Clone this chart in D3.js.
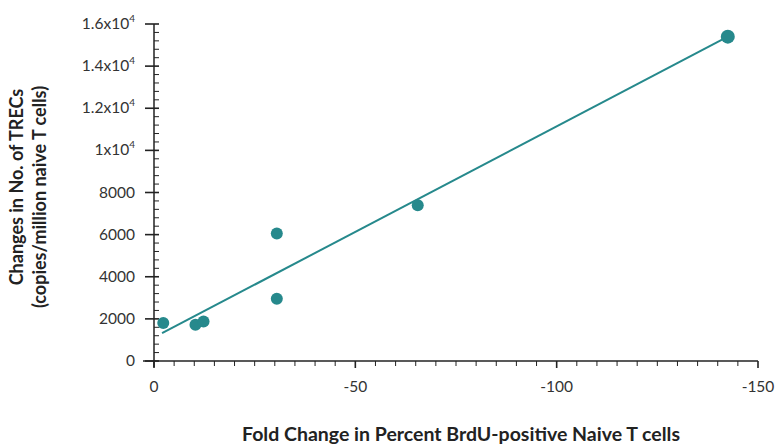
<!DOCTYPE html>
<html><head><meta charset="utf-8">
<script src="https://cdn.jsdelivr.net/npm/d3@7"></script>
<style>body{margin:0;background:#fff}svg{font-family:Lato,Arial,sans-serif}</style>
</head><body><svg width="776" height="445"></svg>
<script>
const xs = [-2.3, -10.3, -12.3, -30.5, -30.5, -65.5, -142.5];
const ys = [1800, 1720, 1870, 6050, 2950, 7400, 15400];
const fitX = [-2, -142.5];
const fitY = [1320, 15400];
const xTicks = [0, -50, -100, -150];
const yTicks = [0, 2000, 4000, 6000, 8000, 10000, 12000, 14000, 16000];
const yLabels = ["0","2000","4000","6000","8000","1x10|4","1.2x10|4","1.4x10|4","1.6x10|4"];
const color = "#26898c";

const svg = d3.select("svg");
const x = d3.scaleLinear().domain([0, -150]).range([154, 758]);
const y = d3.scaleLinear().domain([0, 16000]).range([361, 24]);

svg.append("line").attr("x1",143).attr("x2",758).attr("y1",361).attr("y2",361).attr("stroke","#222").attr("stroke-width",1.5);
svg.append("line").attr("x1",154).attr("x2",154).attr("y1",24).attr("y2",367).attr("stroke","#222").attr("stroke-width",1.5);

d3.range(0,-151,-5).forEach(v=>{
  const major = v%50===0;
  svg.append("line").attr("x1",x(v)).attr("x2",x(v)).attr("y1",361).attr("y2",major?368:366).attr("stroke","#222").attr("stroke-width",major?1.6:1);
});
xTicks.forEach(v=>svg.append("text").attr("x",x(v)).attr("y",392).attr("text-anchor","middle").attr("font-size",15.5).attr("fill","#333").text(v));

d3.range(0,16001,400).forEach(v=>{
  const major = v%2000===0;
  svg.append("line").attr("x1",major?145:154).attr("x2",159).attr("y1",y(v)).attr("y2",y(v)).attr("stroke","#222").attr("stroke-width",major?1.6:1);
});
yTicks.forEach((v,i)=>{
  const parts = yLabels[i].split("|");
  const t = svg.append("text").attr("x",135).attr("y",y(v)+5).attr("text-anchor","end").attr("font-size",15.5).attr("fill","#333");
  t.append("tspan").text(parts[0]);
  if(parts[1]) t.append("tspan").attr("dy",-7).attr("font-size",10).text(parts[1]);
});

svg.append("text").attr("transform","translate(23,187) rotate(-90)").attr("text-anchor","middle").attr("font-size",18).attr("font-weight","bold").attr("fill","#222").text("Changes in No. of TRECs");
svg.append("text").attr("transform","translate(46,197) rotate(-90)").attr("text-anchor","middle").attr("font-size",18).attr("font-weight","bold").attr("fill","#222").text("(copies/million naive T cells)");
svg.append("text").attr("x",461).attr("y",441).attr("text-anchor","middle").attr("font-size",19.5).attr("font-weight","bold").attr("fill","#222").text("Fold Change in Percent BrdU-positive Naive T cells");

svg.append("line").attr("x1",x(fitX[0])).attr("y1",y(fitY[0])).attr("x2",x(fitX[1])).attr("y2",y(fitY[1])).attr("stroke",color).attr("stroke-width",2);

svg.selectAll("circle.p").data(xs).join("circle").attr("cx",(d)=>x(d)).attr("cy",(d,i)=>y(ys[i])).attr("r",(d,i)=>i===6?7:6).attr("fill",color);
</script></body></html>
